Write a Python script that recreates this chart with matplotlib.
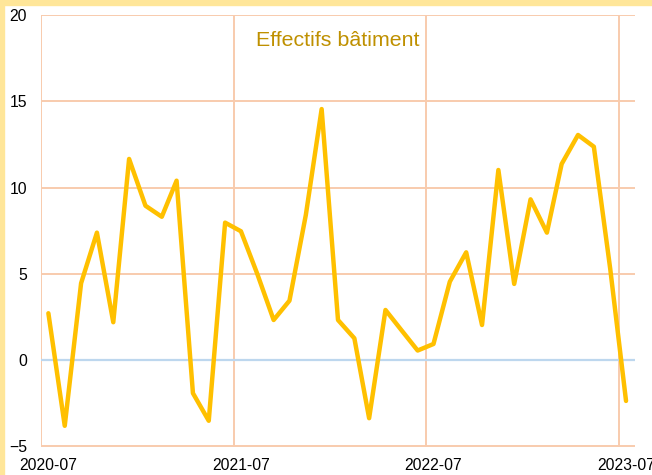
import pandas as pd
import numpy as np
import matplotlib.pyplot as plt
import matplotlib.dates as mdates
from matplotlib.patches import Rectangle

plt.rcParams["font.family"] = ["Liberation Sans", "DejaVu Sans"]

# Monthly change in construction headcount (mid-month points)
START_MONTH = "2020-07"
VALUES = [2.72, -3.80, 4.46, 7.39, 2.20, 11.66, 8.95, 8.31, 10.40, -1.91, -3.51, 7.97,
          7.47, 5.0, 2.33, 3.45, 8.41, 14.55, 2.33, 1.27, -3.36, 2.91, 1.75, 0.56,
          0.94, 4.55, 6.25, 2.04, 11.02, 4.42, 9.32, 7.39, 11.37, 13.05, 12.37, 5.3,
          -2.36]
TITLE = "Effectifs bâtiment"
Y_TICKS = [-5, 0, 5, 10, 15, 20]

months = pd.date_range(START_MONTH + "-01", periods=len(VALUES), freq="MS")
dates = months + pd.Timedelta(days=14)

fig = plt.figure(figsize=(6.52, 4.75), dpi=100)
ax = fig.add_axes([41 / 652, 1 - 446.5 / 475, (635 - 41) / 652, (446.5 - 15) / 475])
ax.patch.set_visible(False)

# yellow frame on the top and left edges
fig.patches.append(Rectangle((0, 1 - 5 / 475), 1, 5 / 475, transform=fig.transFigure,
                             color="#FFE699", zorder=0))
fig.patches.append(Rectangle((0, 0), 4 / 652, 1, transform=fig.transFigure,
                             color="#FFE699", zorder=0))

ax.plot(dates, VALUES, color="#FFC000", lw=3.2, solid_joinstyle="round",
        solid_capstyle="round", zorder=3)
ax.axhline(0, color="#BDD7EE", lw=1.6, zorder=2)

ax.set_ylim(-5, 20)
ax.set_yticks(Y_TICKS)
ax.set_xlim(months[0], months[-1] + pd.DateOffset(months=1))

# grid on the 1st of July, labels under the mid-month point
ax.set_xticks(months[::12])
ax.set_xticklabels([])
ax.set_xticks(dates[::12], minor=True)
ax.xaxis.set_minor_formatter(mdates.DateFormatter("%Y-%m"))

ax.grid(True, which="major", color="#F8CBAD", lw=1.4, zorder=1)
ax.tick_params(axis="both", which="both", length=0, labelsize=11.3, colors="black")
ax.tick_params(axis="y", pad=10)
ax.tick_params(axis="x", which="minor", pad=8)
for s in ax.spines.values():
    s.set_visible(False)

ax.text(0.5, 0.927, TITLE, transform=ax.transAxes, ha="center", va="baseline",
        fontsize=15.4, color="#BF9000")

fig.savefig("out.png", dpi=100)
